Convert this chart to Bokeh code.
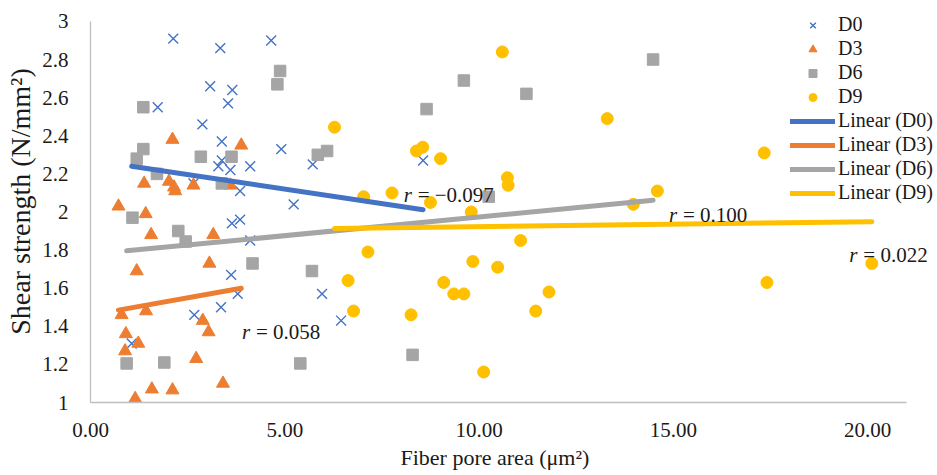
from bokeh.plotting import figure
from bokeh.models import (Range1d, FixedTicker, NumeralTickFormatter, CustomJSTickFormatter,
                          Legend, LegendItem, ColumnDataSource, Title)
from bokeh.core.properties import value
from bokeh.embed import file_html
from bokeh.resources import INLINE

# ---------------- data ----------------
d0_x = [2.13, 3.34, 4.65, 3.08, 3.65, 3.54, 1.73, 2.88, 3.38, 4.91, 3.29, 3.38, 3.60, 4.11, 3.85,
        5.23, 5.72, 8.56, 3.64, 3.85, 4.11, 3.62, 3.79, 3.36, 2.67, 1.06, 5.96, 6.45, 2.65]
d0_y = [2.91, 2.86, 2.90, 2.66, 2.64, 2.57, 2.55, 2.46, 2.37, 2.33, 2.24, 2.27, 2.22, 2.24, 2.11,
        2.04, 2.25, 2.27, 1.94, 1.96, 1.85, 1.67, 1.57, 1.50, 1.46, 1.31, 1.57, 1.43, 2.15]

d3_x = [2.11, 3.88, 1.38, 2.02, 2.15, 2.18, 2.65, 3.60, 0.72, 1.42, 1.56, 3.16, 3.06, 1.19, 0.80,
        1.43, 0.91, 0.89, 1.23, 2.89, 3.04, 2.72, 1.15, 1.58, 2.11, 3.41]
d3_y = [2.38, 2.35, 2.15, 2.16, 2.13, 2.11, 2.14, 2.14, 2.03, 1.99, 1.88, 1.88, 1.73, 1.69, 1.46,
        1.48, 1.36, 1.27, 1.31, 1.43, 1.37, 1.23, 1.02, 1.07, 1.065, 1.10]

d6_x = [1.36, 1.36, 1.19, 1.71, 2.84, 3.63, 3.38, 1.08, 2.26, 2.45, 4.17, 0.93, 1.90, 5.40, 4.88,
        4.81, 6.09, 5.85, 8.65, 9.61, 11.22, 10.25, 5.70, 8.29, 14.48]
d6_y = [2.55, 2.33, 2.28, 2.20, 2.29, 2.29, 2.15, 1.97, 1.90, 1.845, 1.73, 1.205, 1.21, 1.205, 2.74,
        2.67, 2.32, 2.30, 2.54, 2.69, 2.62, 2.08, 1.69, 1.25, 2.80]

d9_x = [10.60, 6.28, 8.39, 8.55, 9.01, 10.73, 10.75, 7.03, 7.76, 8.75, 9.80, 7.14, 6.63, 6.77, 8.25,
        9.09, 9.35, 9.61, 9.84, 10.48, 11.07, 10.12, 13.30, 14.59, 13.97, 11.80, 11.46, 17.34, 17.41, 20.11]
d9_y = [2.84, 2.445, 2.32, 2.34, 2.28, 2.18, 2.14, 2.08, 2.10, 2.05, 2.00, 1.79, 1.64, 1.48, 1.46,
        1.63, 1.57, 1.57, 1.74, 1.71, 1.85, 1.16, 2.49, 2.11, 2.04, 1.58, 1.48, 2.31, 1.63, 1.73]

# linear trendline end points
trend_d0_x = [1.06, 8.56]
trend_d0_y = [2.24, 2.012]
trend_d3_x = [0.72, 3.88]
trend_d3_y = [1.485, 1.60]
trend_d6_x = [0.93, 14.48]
trend_d6_y = [1.796, 2.061]
trend_d9_x = [6.28, 20.11]
trend_d9_y = [1.913, 1.949]

# correlation labels
r_values = ["= \u22120.097", "= 0.058", "= 0.100", "= 0.022"]
r_x = [8.06, 3.90, 14.89, 19.53]
r_y = [2.087, 1.369, 1.982, 1.772]

x_ticks = [0, 5, 10, 15, 20]
y_ticks = [1.0, 1.2, 1.4, 1.6, 1.8, 2.0, 2.2, 2.4, 2.6, 2.8, 3.0]
x_axis_min, x_axis_max = 0, 21
y_axis_min, y_axis_max = 1, 3

# ---------------- styling ----------------
FONT = "Liberation Serif"
BLUE, ORANGE, GRAY, YELLOW = "#4472C4", "#ED7D31", "#A5A5A5", "#FFC000"
TXT = "#1a1a1a"

# frame extends over the whole right/top margin so the legend and labels are not clipped;
# the axis lines are limited with bounds to the real axis extent.
p = figure(width=937, height=475, output_backend="svg", toolbar_location=None,
           x_range=Range1d(0, 21.8), y_range=Range1d(1, 3.11),
           min_border_left=90, min_border_right=0, min_border_top=0, min_border_bottom=73)
p.outline_line_color = None
p.xgrid.grid_line_color = None
p.ygrid.grid_line_color = None

for ax in (p.xaxis[0], p.yaxis[0]):
    ax.axis_line_color = "#BFBFBF"
    ax.axis_line_width = 1.3
    ax.major_tick_line_color = None
    ax.minor_tick_line_color = None
    ax.major_tick_in = 0
    ax.major_tick_out = 0
    ax.minor_tick_in = 0
    ax.minor_tick_out = 0
    ax.major_label_text_font = FONT
    ax.major_label_text_font_size = "21px"
    ax.major_label_text_color = TXT
    ax.axis_label_text_font = FONT
    ax.axis_label_text_font_style = "normal"
    ax.axis_label_text_color = TXT

p.xaxis.bounds = (x_axis_min, x_axis_max)
p.xaxis.ticker = FixedTicker(ticks=x_ticks)
p.xaxis.formatter = NumeralTickFormatter(format="0.00")
p.xaxis.major_label_standoff = 20

p.yaxis.bounds = (y_axis_min, y_axis_max)
p.yaxis.ticker = FixedTicker(ticks=y_ticks)
p.yaxis.formatter = CustomJSTickFormatter(code="return String(Number(tick.toFixed(1)));")
p.yaxis.major_label_standoff = 22
p.yaxis.axis_label = "Shear strength (N/mm\u00b2)"
p.yaxis.axis_label_text_font_size = "28px"
p.yaxis.axis_label_standoff = 3

xtitle = Title(text="Fiber pore area (\u03bcm\u00b2)", align="left", offset=310,
               text_font=FONT, text_font_size="22px", text_font_style="normal",
               text_color=TXT, standoff=6)
p.add_layout(xtitle, "below")

# scatter series
r0 = p.scatter(d0_x, d0_y, marker="x", size=14, line_color=BLUE, line_width=1.4)
r3 = p.scatter(d3_x, d3_y, marker="triangle", size=13, fill_color=ORANGE, line_color=ORANGE)
r6 = p.scatter(d6_x, d6_y, marker="square", size=11.5, fill_color=GRAY, line_color=GRAY)
r9 = p.scatter(d9_x, d9_y, marker="circle", size=12, fill_color=YELLOW, line_color=YELLOW)

# trendlines
t0 = p.line(trend_d0_x, trend_d0_y, line_color=BLUE, line_width=5, line_cap="round")
t3 = p.line(trend_d3_x, trend_d3_y, line_color=ORANGE, line_width=5, line_cap="round")
t6 = p.line(trend_d6_x, trend_d6_y, line_color=GRAY, line_width=5, line_cap="round")
t9 = p.line(trend_d9_x, trend_d9_y, line_color=YELLOW, line_width=5, line_cap="round")

# r labels
src = ColumnDataSource(dict(x=r_x, y=r_y, t=r_values, r=["r"] * len(r_x)))
p.text(x="x", y="y", text="r", source=src, text_font=value(FONT), text_font_size="21px",
       text_font_style="italic", text_color=TXT, text_baseline="alphabetic", text_align="left")
p.text(x="x", y="y", text="t", source=src, text_font=value(FONT), text_font_size="21px",
       x_offset=14, text_color=TXT, text_baseline="alphabetic", text_align="left")

legend = Legend(items=[
    LegendItem(label="D0", renderers=[r0]),
    LegendItem(label="D3", renderers=[r3]),
    LegendItem(label="D6", renderers=[r6]),
    LegendItem(label="D9", renderers=[r9]),
    LegendItem(label="Linear (D0)", renderers=[t0]),
    LegendItem(label="Linear (D3)", renderers=[t3]),
    LegendItem(label="Linear (D6)", renderers=[t6]),
    LegendItem(label="Linear (D9)", renderers=[t9]),
], location=(700, 198))
legend.border_line_color = None
legend.background_fill_alpha = 0
legend.padding = 0
legend.margin = 0
legend.spacing = 1
legend.glyph_width = 45
legend.glyph_height = 20
legend.label_height = 20
legend.label_standoff = 3
legend.label_text_font = FONT
legend.label_text_font_size = "20px"
legend.label_text_color = TXT
p.add_layout(legend)

open("out.html", "w").write(file_html(p, INLINE))
